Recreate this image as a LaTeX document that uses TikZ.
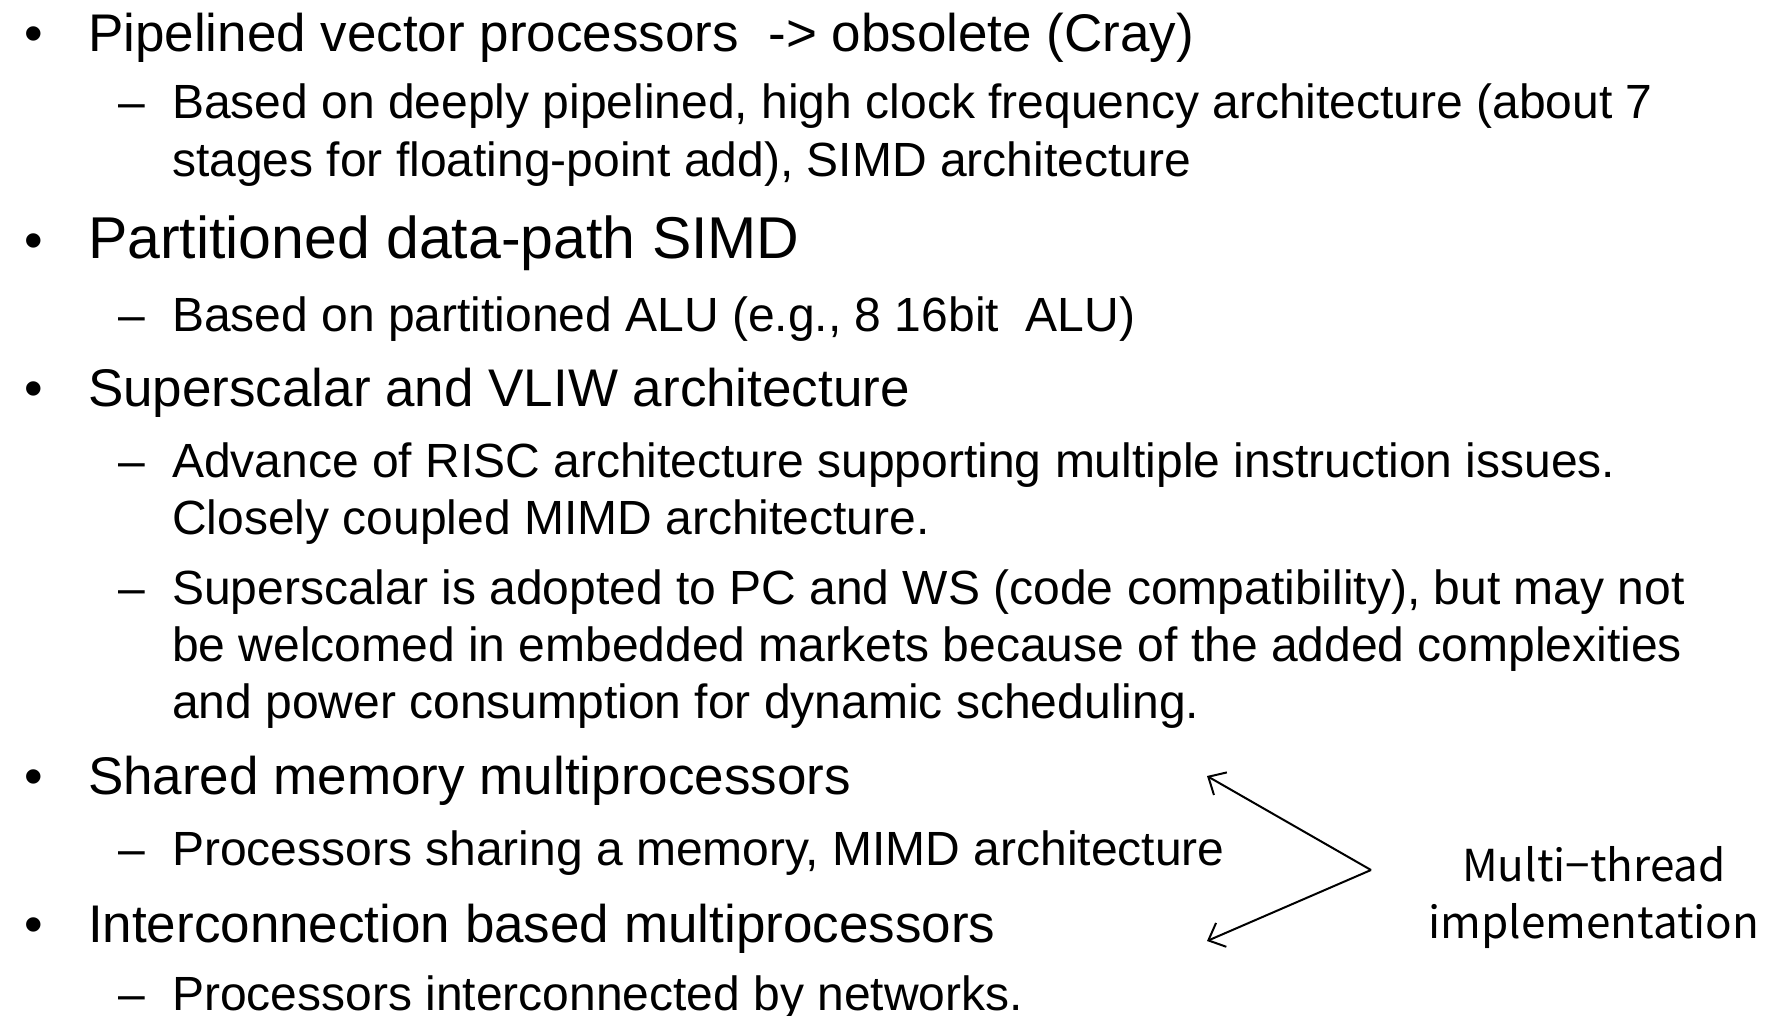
\documentclass[tikz,border=0pt]{standalone}
\usepackage{fontspec}
\setmainfont{Liberation Sans}
\newfontfamily\labelfont{Noto Sans CJK KR}
\usetikzlibrary{arrows.meta}
\begin{document}
\begin{tikzpicture}[x=1pt,y=-1pt,
  txt/.style={anchor=base west,inner sep=0pt,outer sep=0pt},
  lvlone/.style={txt,font=\fontsize{53}{60}\selectfont},
  lvlbig/.style={txt,font=\fontsize{59}{66}\selectfont},
  lvltwo/.style={txt,font=\fontsize{48}{55}\selectfont},
  bulletmark/.style={anchor=base west,inner sep=0pt,font=\fontsize{53}{60}\selectfont},
  dashmark/.style={anchor=base west,inner sep=0pt,font=\fontsize{48}{55}\selectfont},
  barb/.style={line width=2pt,-{Straight Barb[length=14pt,width=26pt,line width=2pt]}}]
\useasboundingbox (0,0) rectangle (1777,1015);
\fill[white] (0,0) rectangle (1777,1015);

% bullets and dashes
\foreach \y/\n in {51/b1,258/b2,406/b3,794/b4,942/b5}
  \node[bulletmark] (\n) at (24,\y) {•};
\foreach \y/\n in {118/d1,331/d2,477/d3,604/d4,865/d5,1010/d6}
  \node[dashmark] (\n) at (118,\y) {–};

% first-level items
\node[lvlone] (t1) at (88,51) {Pipelined vector processors \ -> obsolete (Cray)};
\node[lvlbig] (t4) at (88,258) {Partitioned data-path SIMD};
\node[lvlone] (t6) at (88,406) {Superscalar and VLIW architecture};
\node[lvlone] (t12) at (88,794) {Shared memory multiprocessors};
\node[lvlone] (t14) at (88,942) {Interconnection based multiprocessors};

% second-level items
\node[lvltwo] (t2) at (172,118) {Based on deeply pipelined, high clock frequency architecture (about 7};
\node[lvltwo] (t3) at (172,176) {stages for floating-point add), SIMD architecture};
\node[lvltwo] (t5) at (172,331) {Based on partitioned ALU (e.g., 8 16bit \ ALU)};
\node[lvltwo] (t7) at (172,477) {Advance of RISC architecture supporting multiple instruction issues.};
\node[lvltwo] (t8) at (172,534) {Closely coupled MIMD architecture.};
\node[lvltwo] (t9) at (172,604) {Superscalar is adopted to PC and WS (code compatibility), but may not};
\node[lvltwo] (t10) at (172,661) {be welcomed in embedded markets because of the added complexities};
\node[lvltwo] (t11) at (172,718) {and power consumption for dynamic scheduling.};
\node[lvltwo] (t13) at (172,865) {Processors sharing a memory, MIMD architecture};
\node[lvltwo] (t15) at (172,1010) {Processors interconnected by networks.};

% multi-thread note with its two arrows
\node[align=center,inner sep=0pt,font={\labelfont\fontsize{44}{57}\selectfont}] (mt) at (1594,898)
  {Multi−thread\\implementation};
\coordinate (apex) at (1371,870);
\coordinate (tipup) at (1207,776);
\coordinate (tipdown) at (1207,941);
\draw[barb] (apex) -- (tipup);
\draw[barb] (apex) -- (tipdown);
\end{tikzpicture}
\end{document}
